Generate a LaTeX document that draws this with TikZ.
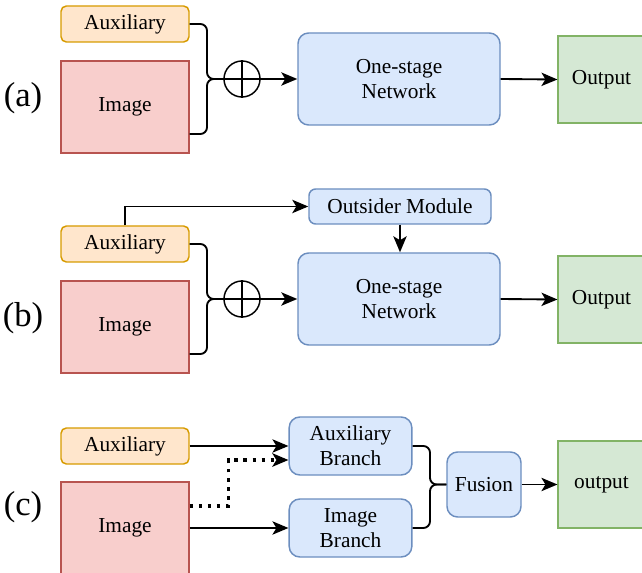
\documentclass[tikz,border=0pt]{standalone}
\usepackage{fontspec}
\setmainfont{Liberation Serif}
\usetikzlibrary{arrows.meta,positioning,calc}

\definecolor{auxfill}{HTML}{FFE6CC}
\definecolor{auxline}{HTML}{D79B00}
\definecolor{imgfill}{HTML}{F8CECC}
\definecolor{imgline}{HTML}{B85450}
\definecolor{netfill}{HTML}{DAE8FC}
\definecolor{netline}{HTML}{6C8EBF}
\definecolor{outfill}{HTML}{D5E8D4}
\definecolor{outline}{HTML}{82B366}

\begin{document}
\begin{tikzpicture}[>={Stealth[length=12pt,width=10pt,inset=3pt]},x=0.75pt,y=-0.75pt,line width=1.4pt]
	\tikzset{box/.style = {draw,line width=1.1pt,inner sep=0pt,align=center,font=\fontsize{16}{19}\selectfont}}
	\tikzset{auxbox/.style = {box,fill=auxfill,draw=auxline,rounded corners=4pt,minimum width=96pt,minimum height=27pt}}
	\tikzset{imgbox/.style = {box,fill=imgfill,draw=imgline,minimum width=96pt,minimum height=69pt}}
	\tikzset{netbox/.style = {box,fill=netfill,draw=netline,rounded corners=8pt}}
	\tikzset{outbox/.style = {box,fill=outfill,draw=outline,minimum width=65pt,minimum height=65pt}}
	\tikzset{sum/.style = {circle,draw,line width=1.1pt,minimum size=27pt,inner sep=0pt}}
	\tikzset{tag/.style = {font=\fontsize{26}{30}\selectfont}}
	\tikzset{brace/.style = {rounded corners=5pt}}
	\clip (0,0) rectangle (642,573);

	% (a)
	\node[tag] (la) at (23,98) {(a)};
	\node[auxbox] (aa) at (125,24) {Auxiliary};
	\node[imgbox] (ia) at (125,107) {Image};
	\node[sum] (sa) at (242,79) {};
	\node[netbox,minimum width=151.5pt,minimum height=69pt] (na) at (399,79) {One-stage\\Network};
	\node[outbox] (oa) at (601.5,79.5) {Output};
	\coordinate (ja) at (207,79);
	%edges
	\draw[brace] (aa.east) -| (ja) -- (sa.west);
	\draw[brace] ($(ia.east)+(0,27)$) -| (ja) -- (sa.west);
	\draw[line width=1.1pt] (sa.north) -- (sa.south) (sa.west) -- (sa.east);
	\draw[->] (sa.east) -- (na.west);
	\draw[->] (na.east) -- (oa.west);

	% (b)
	\node[tag] (lb) at (23,318) {(b)};
	\node[netbox,rounded corners=5pt,minimum width=136.5pt,minimum height=26.25pt] (mb) at (400,206.5) {Outsider Module};
	\node[auxbox] (ab) at (125,244) {Auxiliary};
	\node[imgbox] (ib) at (125,327) {Image};
	\node[sum] (sb) at (242,299) {};
	\node[netbox,minimum width=151.5pt,minimum height=69pt] (nb) at (399,299) {One-stage\\Network};
	\node[outbox] (ob) at (601.5,299.5) {Output};
	\coordinate (jb) at (207,299);
	%edges
	\draw[->] (ab.north) |- (mb.west);
	\draw[->] (mb.south) -- (mb.south |- nb.north);
	\draw[brace] (ab.east) -| (jb) -- (sb.west);
	\draw[brace] ($(ib.east)+(0,27)$) -| (jb) -- (sb.west);
	\draw[line width=1.1pt] (sb.north) -- (sb.south) (sb.west) -- (sb.east);
	\draw[->] (sb.east) -- (nb.west);
	\draw[->] (nb.east) -- (ob.west);

	% (c)
	\node[tag] (lc) at (23,507) {(c)};
	\node[auxbox] (ac) at (125,446) {Auxiliary};
	\node[imgbox] (ic) at (125,528) {Image};
	\node[netbox,minimum width=92pt,minimum height=43.5pt] (bac) at (350.5,446) {Auxiliary\\Branch};
	\node[netbox,minimum width=92pt,minimum height=43.5pt] (bic) at (350.5,528) {Image\\Branch};
	\node[netbox,minimum width=55.5pt,minimum height=48.75pt] (fc) at (484,484.5) {Fusion};
	\node[outbox] (oc) at (601.5,484.5) {output};
	\coordinate (jc) at (430,484.5);
	%edges
	\draw[->] (ac.east) -- (bac.west);
	\draw[->,line width=2.6pt,dash pattern=on 2.6pt off 4.2pt] ($(ic.east)+(0,-22)$) -- ++(39,0) |- ($(bac.west)+(0,14)$);
	\draw[->] (ic.east) -- (bic.west);
	\draw[brace] (bac.east) -| (jc) -- (fc.west);
	\draw[brace] (bic.east) -| (jc) -- (fc.west);
	\draw[->] (fc.east) -- (oc.west);
\end{tikzpicture}
\end{document}
